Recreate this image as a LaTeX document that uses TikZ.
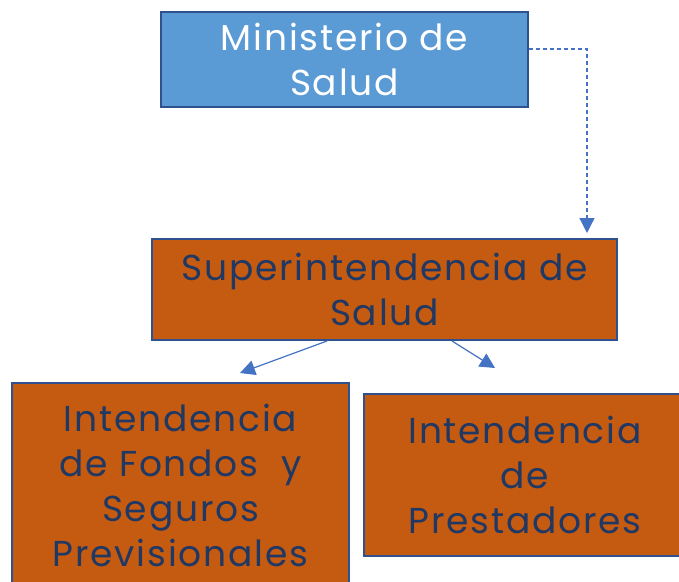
\documentclass[tikz,border=0pt]{standalone}
\usepackage{fontspec}
\setmainfont[LetterSpace=5]{Poppins}
\usetikzlibrary{arrows.meta}
\definecolor{boxblue}{HTML}{5B9BD5}
\definecolor{boxorange}{HTML}{C55A11}
\definecolor{edgeblue}{HTML}{2F528F}
\definecolor{linkblue}{HTML}{4472C4}
\definecolor{textnavy}{HTML}{1F3864}
\tikzset{
  orgbox/.style={draw=edgeblue, line width=2pt, rectangle, align=center, inner sep=0pt,
    font=\fontsize{36}{45}\selectfont},
  bluebox/.style={orgbox, fill=boxblue, text=white},
  orangebox/.style={orgbox, fill=boxorange, text=textnavy},
  link/.style={draw=linkblue, line width=1.2pt, -{Triangle[length=15pt,width=15pt]}},
}
\begin{document}
\begin{tikzpicture}[x=1pt,y=-1pt]
\useasboundingbox (0,0) rectangle (679,581);
\fill[white] (0,0) rectangle (679,581);
\node[bluebox, minimum width=367pt, minimum height=95pt] (min) at (344.5,59.5) {Ministerio de\\Salud};
\node[orangebox, minimum width=465pt, minimum height=101pt] (sup) at (384.5,289.5) {Superintendencia de\\Salud};
\node[orangebox, minimum width=337pt, minimum height=204pt, line width=2.5pt] (fon) at (180.5,485) {Intendencia\\de Fondos~ y\\Seguros\\Previsionales};
\node[orangebox, minimum width=322pt, minimum height=162pt] (pre) at (525,475) {Intendencia\\de\\Prestadores};
\coordinate (bend) at (587,49);
\coordinate (supin) at (587,233);
\coordinate (fonin) at (240,373);
\coordinate (prein) at (495,368);
\draw[link, dashed, dash pattern=on 4pt off 3pt] (min.east |- bend) -- (bend) -- (supin);
\draw[link] (327,341) -- (fonin);
\draw[link] (452,341) -- (prein);
\end{tikzpicture}
\end{document}
